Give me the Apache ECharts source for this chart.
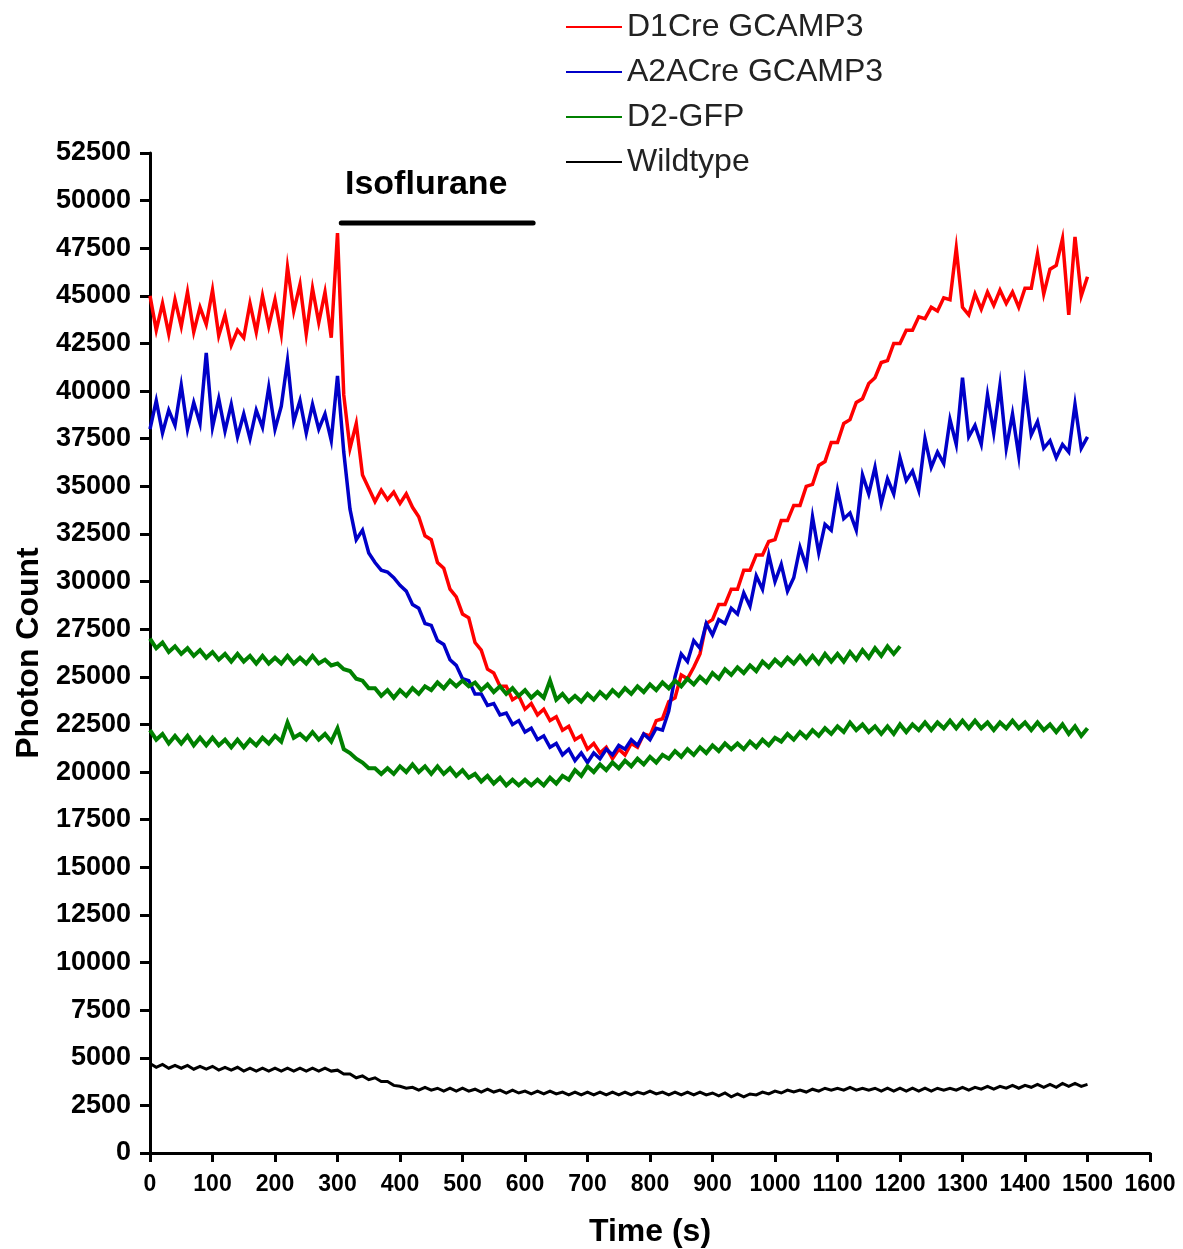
<!DOCTYPE html>
<html lang="en">
<head>
	<meta charset="UTF-8">
	<title>Photon Count</title>
	<style type="text/css">
		html, body { margin: 0; padding: 0; background: #fff; }
	</style>
	<script src="https://cdn.jsdelivr.net/npm/echarts@6/dist/echarts.min.js"></script>
</head>
<body>
	<div id="main" style="width: 1183px;height:1249px;"></div>
	<script type="text/javascript">
	// samples every 10 s
	var sampleStep = 10
	var d1Cre = [
		45000,43200,44600,43000,44800,43400,45200,43100,44400,43500,
		45300,42900,44000,42400,43200,42800,44600,43100,45000,43400,
		44800,43000,46500,44200,45600,43000,45400,43600,45200,42800,
		48300,39800,37000,38300,35600,34900,34200,34800,34300,34700,
		34100,34600,33900,33400,32400,32200,31000,30700,29600,29200,
		28300,28100,26800,26400,25400,25200,24500,24500,23800,24000,
		23300,23600,23000,23300,22700,22900,22200,22400,21700,21900,
		21200,21500,21000,21300,20700,21200,20900,21500,21300,22000,
		21900,22700,22800,23700,23900,25100,24900,25500,26200,27800,
		28000,28800,28800,29600,29600,30600,30600,31400,31400,32100,
		32200,33200,33200,34000,34000,35000,35100,36100,36300,37300,
		37300,38300,38500,39400,39600,40400,40700,41500,41600,42500,
		42500,43200,43200,43900,43800,44400,44200,44900,44800,47500,
		44400,44000,45100,44300,45200,44500,45300,44600,45200,44400,
		45400,45400,47200,45100,46400,46600,48000,44000,48100,45000,
		46000
	]
	var a2aCre = [
		38000,39500,37800,39000,38200,40300,38000,39400,38300,42000,
		38100,39600,37900,39300,37600,38800,37500,39000,38100,40200,
		38000,39200,41600,38400,39500,37800,39300,38000,38800,37400,
		40800,36800,33800,32200,32700,31500,31000,30600,30500,30200,
		29800,29500,28800,28600,27800,27700,26900,26700,25900,25600,
		24900,24800,24100,24100,23500,23600,23000,23100,22500,22700,
		22100,22300,21700,21900,21300,21500,20900,21200,20600,21000,
		20500,21000,20700,21200,20900,21400,21200,21700,21400,22000,
		21700,22300,22200,23200,25000,26200,25800,26900,26500,27800,
		27200,28000,27800,28600,28300,29400,28700,30300,29600,31400,
		30000,30900,29500,30200,31800,30800,33400,31500,33000,32700,
		34800,33300,33600,32700,35600,34600,36000,34100,35400,34600,
		36500,35300,35800,34800,37500,36000,36800,36200,38500,37200,
		40700,37600,38200,37200,39800,37800,40300,37000,38800,36600,
		40300,37700,38400,37000,37400,36500,37200,36800,39300,37000,
		37600
	]
	var d2GfpA = [
		27000,26500,26800,26300,26600,26200,26500,26100,26400,26000,
		26300,25900,26200,25800,26200,25800,26100,25700,26100,25700,
		26000,25700,26100,25700,26000,25700,26100,25700,25900,25600,
		25700,25400,25300,24900,24800,24400,24400,24000,24300,23900,
		24300,24000,24400,24100,24500,24300,24700,24400,24800,24500,
		24800,24500,24700,24300,24600,24200,24500,24100,24400,24000,
		24300,23900,24200,23900,24800,23800,24100,23700,24000,23700,
		24100,23800,24200,23900,24300,24000,24400,24100,24500,24200,
		24600,24300,24700,24400,24800,24500,24900,24600,25000,24700,
		25200,24900,25400,25100,25500,25200,25600,25300,25800,25500,
		25900,25600,26000,25700,26100,25700,26100,25700,26200,25800,
		26200,25800,26300,25900,26400,26000,26500,26100,26600,26200,
		26600
	]
	var d2GfpB = [
		22200,21700,22000,21500,21900,21500,21900,21400,21800,21400,
		21800,21400,21700,21300,21700,21300,21700,21400,21800,21500,
		21900,21600,22600,21800,22000,21700,22100,21700,22000,21600,
		22300,21200,21000,20700,20500,20200,20200,19900,20200,19900,
		20300,20000,20400,20000,20300,19900,20300,19900,20200,19800,
		20100,19700,19900,19500,19800,19400,19700,19300,19600,19300,
		19600,19300,19600,19300,19700,19400,19800,19600,20100,19800,
		20300,20000,20400,20100,20500,20200,20600,20300,20700,20400,
		20800,20500,20900,20700,21100,20800,21200,20900,21300,21000,
		21400,21100,21500,21200,21500,21200,21600,21300,21700,21400,
		21800,21600,22000,21700,22100,21800,22200,21900,22300,22000,
		22400,22100,22600,22200,22500,22100,22400,22000,22400,22000,
		22500,22100,22500,22200,22600,22200,22600,22300,22700,22300,
		22700,22300,22700,22300,22600,22200,22600,22300,22700,22300,
		22600,22200,22600,22200,22500,22100,22500,22000,22400,21900,
		22300
	]
	var wildtype = [
		4700,4500,4650,4450,4600,4450,4600,4400,4550,4400,
		4550,4350,4500,4350,4500,4300,4450,4300,4450,4300,
		4450,4300,4450,4300,4450,4300,4450,4300,4450,4300,
		4350,4150,4150,3950,4050,3850,3950,3750,3750,3550,
		3500,3400,3450,3300,3450,3300,3400,3250,3400,3250,
		3400,3250,3350,3200,3350,3200,3300,3150,3300,3150,
		3250,3100,3250,3100,3250,3100,3200,3050,3200,3050,
		3200,3050,3200,3050,3200,3050,3200,3050,3200,3100,
		3250,3100,3200,3050,3200,3050,3200,3050,3200,3050,
		3150,3000,3150,2950,3100,2950,3100,3050,3200,3100,
		3250,3150,3300,3200,3300,3200,3350,3250,3400,3300,
		3400,3300,3450,3300,3400,3300,3400,3250,3400,3250,
		3400,3250,3400,3250,3400,3250,3400,3300,3400,3300,
		3450,3300,3450,3350,3500,3350,3500,3400,3550,3400,
		3550,3450,3600,3450,3600,3450,3650,3500,3650,3500,
		3600
	]
	// isoflurane bar: start, end (s) and level
	var isoTimes = [306, 613]
	var isoLevel = 48825
	var legendNames = ['D1Cre GCAMP3', 'A2ACre GCAMP3', 'D2-GFP', 'Wildtype']

	function pairs(values){
		var out = []
		for (var i = 0; i < values.length; i++) {
			out.push([i * sampleStep, values[i]])
		}
		return out
	}

	var font = "'Liberation Sans', Arial, sans-serif"
	var myChart = echarts.init(document.getElementById('main'));
	function trace(name, color, values, width){
		return {
			name: name,
			type: 'line',
			data: pairs(values),
			symbol: 'none',
			lineStyle: { color: color, width: width, join: 'miter' },
			itemStyle: { color: color }
		}
	}
	option = {
		animation: false,
		grid: { left: 150, right: 33, top: 153, bottom: 96, outerBoundsMode: 'none' },
		legend: {
			orient: 'vertical',
			left: 561,
			top: 5,
			itemWidth: 56,
			itemHeight: 2,
			itemGap: 11,
			icon: 'rect',
			data: legendNames,
			textStyle: { fontFamily: font, fontSize: 32, color: '#222', lineHeight: 34 }
		},
		graphic: [{
			type: 'text',
			left: 345,
			top: 168,
			style: { text: 'Isoflurane', font: "bold 34px 'Liberation Sans', Arial", fill: '#000' }
		}],
		xAxis: {
			type: 'value',
			min: 0,
			max: 1600,
			interval: 100,
			name: 'Time (s)',
			nameLocation: 'middle',
			nameGap: 63,
			nameTextStyle: { fontFamily: font, fontSize: 32, fontWeight: 'bold', color: '#000' },
			splitLine: { show: false },
			axisLine: { lineStyle: { color: '#000', width: 3 } },
			axisTick: { length: 9, lineStyle: { color: '#000', width: 3 } },
			axisLabel: {
				margin: 20, fontFamily: font, fontSize: 23, fontWeight: 'bold', color: '#000',
				showMinLabel: true, showMaxLabel: true, hideOverlap: false,
				formatter: function (v) { return String(v) }
			}
		},
		yAxis: {
			type: 'value',
			min: 0,
			max: 52500,
			interval: 2500,
			name: 'Photon Count',
			nameLocation: 'middle',
			nameGap: 104,
			nameTextStyle: { fontFamily: font, fontSize: 32, fontWeight: 'bold', color: '#000' },
			splitLine: { show: false },
			axisLine: { show: true, lineStyle: { color: '#000', width: 3 } },
			axisTick: { show: true, length: 10, lineStyle: { color: '#000', width: 3 } },
			axisLabel: {
				margin: 19, fontFamily: font, fontSize: 27, fontWeight: 'bold', color: '#000',
				formatter: function (v) { return String(v) }
			}
		},
		series: [
			trace('D1Cre GCAMP3', '#ff0000', d1Cre, 3.5),
			trace('A2ACre GCAMP3', '#0000c8', a2aCre, 3.5),
			trace('D2-GFP', '#008000', d2GfpA, 4),
			trace('D2-GFP', '#008000', d2GfpB, 4),
			trace('Wildtype', '#000000', wildtype, 3),
			{
				name: 'Isoflurane',
				type: 'line',
				data: [[isoTimes[0], isoLevel], [isoTimes[1], isoLevel]],
				symbol: 'none',
				silent: true,
				lineStyle: { color: '#000', width: 5, cap: 'round' }
			}
		]
	};
	myChart.setOption(option);
	</script>
</body>
</html>
